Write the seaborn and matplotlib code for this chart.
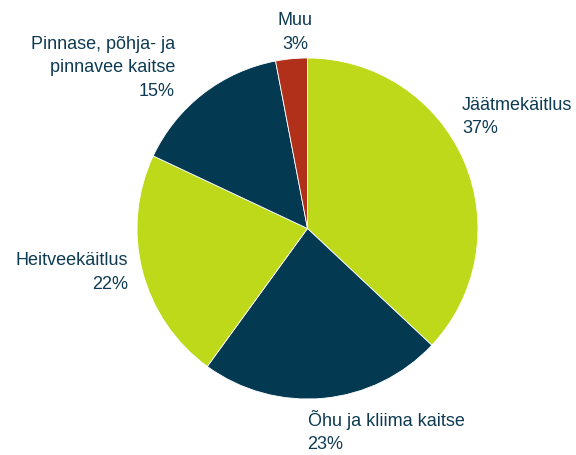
import matplotlib
matplotlib.use("Agg")
import matplotlib.pyplot as plt
import seaborn as sns

# andmed
categories = ["Jäätmekäitlus", "Õhu ja kliima kaitse", "Heitveekäitlus",
              "Pinnase, põhja- ja\npinnavee kaitse", "Muu"]
shares = [37, 23, 22, 15, 3]
colors = ["#BED91A", "#033A52", "#BED91A", "#033A52", "#B0301A"]

# sildi asukohad (raadiuse ühikutes) ja joondus
label_pos = [(0.906, 0.655), (0.0, -1.19), (-1.053, -0.258), (-0.777, 0.944), (-0.073, 1.15)]
label_ha = ["left", "left", "right", "right", "center"]

sns.set_theme(style="white")
plt.rcParams["font.family"] = ["Liberation Sans", "DejaVu Sans"]

fig = plt.figure(figsize=(5.76, 4.55), dpi=100)
ax = fig.add_axes([137 / 576, 56 / 455, 341 / 576, 341 / 455])

wedges, _ = ax.pie(shares, colors=colors, startangle=90, counterclock=False,
                   radius=1, wedgeprops=dict(edgecolor="white", linewidth=0.6))

for name, val, (x, y), ha in zip(categories, shares, label_pos, label_ha):
    ax.text(x, y, f"{name}\n{val}%", ha=ha, va="center", multialignment=ha,
            fontsize=13, color="#0E3B53", linespacing=1.5, clip_on=False)

ax.set_xlim(-1, 1)
ax.set_ylim(-1, 1)
ax.set_aspect("equal")
ax.axis("off")

fig.savefig("out.png", dpi=100)
